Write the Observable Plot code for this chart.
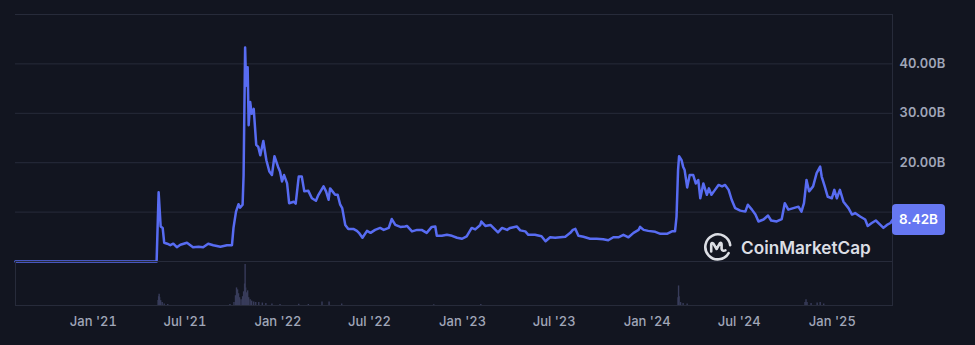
<!DOCTYPE html>
<html>
<head>
<meta charset="utf-8">
<script src="https://cdn.jsdelivr.net/npm/d3@7"></script>
<script src="https://cdn.jsdelivr.net/npm/@observablehq/plot@0.6"></script>
<style>
  html, body { margin: 0; padding: 0; background: #121520; }
  #wrap { position: relative; width: 975px; height: 345px; background: #121520; overflow: hidden; font-family: Inter, "Noto Sans", sans-serif; }
  #wrap svg { position: absolute; left: 0; background: transparent; }
  #last { position: absolute; left: 892px; width: 53px; height: 31px; border-radius: 4px; background: #6677f2; color: #fff; font: 600 13.5px Inter, sans-serif; display: flex; align-items: center; justify-content: center; }
  #logo { position: absolute; left: 703px; top: 232px; display: flex; align-items: center; color: #dcdee4; }
  #logo span { font: 600 17.2px Inter, sans-serif; margin-left: 8px; letter-spacing: 0; }
</style>
</head>
<body>
<div id="wrap"></div>
<script>
// ---- data ----
const priceDates = [
"2020-07-31","2021-05-06","2021-05-10","2021-05-14","2021-05-18","2021-05-21","2021-05-27","2021-06-02","2021-06-08","2021-06-15",
"2021-06-22","2021-07-05","2021-07-17","2021-07-28","2021-08-06","2021-08-16","2021-08-26","2021-09-09","2021-09-22","2021-10-02",
"2021-10-05","2021-10-10","2021-10-15","2021-10-18","2021-10-23","2021-10-25","2021-10-28","2021-10-30","2021-11-02","2021-11-04",
"2021-11-07","2021-11-10","2021-11-14","2021-11-19","2021-11-23","2021-11-27","2021-12-03","2021-12-09","2021-12-15","2021-12-20",
"2021-12-25","2022-01-01","2022-01-05","2022-01-09","2022-01-13","2022-01-19","2022-01-23","2022-02-01","2022-02-05","2022-02-11",
"2022-02-17","2022-02-22","2022-03-02","2022-03-09","2022-03-17","2022-03-22","2022-04-01","2022-04-06","2022-04-11","2022-04-14",
"2022-04-24","2022-04-29","2022-05-04","2022-05-08","2022-05-14","2022-05-20","2022-05-30","2022-06-06","2022-06-10","2022-06-17",
"2022-06-26","2022-07-03","2022-07-12","2022-07-22","2022-07-29","2022-08-08","2022-08-14","2022-08-21","2022-08-31","2022-09-09",
"2022-09-13","2022-09-23","2022-10-03","2022-10-12","2022-10-22","2022-11-01","2022-11-08","2022-11-11","2022-11-21","2022-12-01",
"2022-12-11","2022-12-21","2022-12-31","2023-01-09","2023-01-19","2023-01-26","2023-02-05","2023-02-07","2023-02-15","2023-02-25",
"2023-03-03","2023-03-12","2023-03-20","2023-03-30","2023-04-05","2023-04-18","2023-04-25","2023-05-05","2023-05-11","2023-05-24",
"2023-06-06","2023-06-14","2023-06-23","2023-07-03","2023-07-13","2023-07-23","2023-08-02","2023-08-07","2023-08-12","2023-08-18",
"2023-08-28","2023-09-10","2023-09-23","2023-10-06","2023-10-16","2023-10-26","2023-11-05","2023-11-15","2023-11-25","2023-12-05",
"2023-12-15","2023-12-18","2023-12-25","2024-01-03","2024-01-17","2024-01-27","2024-02-09","2024-02-19","2024-02-25","2024-02-28",
"2024-03-02","2024-03-04","2024-03-09","2024-03-12","2024-03-15","2024-03-20","2024-03-25","2024-04-01","2024-04-06","2024-04-11",
"2024-04-15","2024-04-21","2024-04-28","2024-05-02","2024-05-07","2024-05-14","2024-05-21","2024-05-28","2024-06-03","2024-06-10",
"2024-06-16","2024-06-23","2024-07-03","2024-07-13","2024-07-18","2024-07-26","2024-08-02","2024-08-08","2024-08-18","2024-08-27",
"2024-09-02","2024-09-13","2024-09-23","2024-09-29","2024-10-06","2024-10-16","2024-10-26","2024-11-01","2024-11-06","2024-11-11",
"2024-11-16","2024-11-24","2024-12-01","2024-12-08","2024-12-11","2024-12-17","2024-12-23","2024-12-31","2025-01-05","2025-01-10",
"2025-01-16","2025-01-23","2025-02-02","2025-02-09","2025-02-15","2025-02-25","2025-03-07","2025-03-12","2025-03-20","2025-03-28",
"2025-04-06","2025-04-12","2025-04-19","2025-04-26","2025-04-30"
];
const priceValues = [
0,0,14.0,7.1,6.8,3.8,3.6,3.3,3.6,2.9,
3.4,3.8,2.9,3.0,2.9,3.6,3.3,3.0,3.3,3.3,
6.8,10.1,11.6,10.9,11.5,17.5,43.3,35.6,39.3,27.6,
32.3,29.9,30.9,23.6,23.2,21.5,24.4,20.5,18.2,17.5,
21.3,19.2,18.2,16.2,17.5,15.8,11.8,12.1,11.7,17.2,
17.2,14.2,14.3,12.8,12.3,13.5,15.2,14.2,12.5,14.8,
13.5,13.5,11.5,10.8,7.4,6.6,6.6,6.2,5.8,4.8,
6.2,5.8,6.4,6.8,6.4,6.8,8.6,7.4,7.0,7.1,
7.2,6.1,6.4,6.4,5.8,7.0,7.1,5.2,5.2,5.4,
5.2,4.8,4.6,5.1,6.8,6.5,7.4,8.1,7.2,7.4,
6.8,5.9,6.8,6.4,6.8,7.1,6.3,6.1,5.4,5.4,
5.1,4.1,4.9,4.8,4.9,5.0,5.8,6.4,6.6,5.2,
5.0,4.6,4.6,4.5,4.3,4.9,4.9,5.4,4.9,5.8,
6.4,7.0,6.4,6.2,6.0,5.6,5.6,6.1,6.1,9.1,
18.5,21.3,20.5,19.2,18.5,15.0,17.5,17.5,15.8,16.5,
12.8,15.8,13.5,14.8,13.5,14.5,15.5,15.2,15.5,14.5,
12.5,10.8,10.3,10.1,11.5,10.5,9.5,8.1,8.5,9.3,
8.3,8.1,8.6,11.8,10.5,10.8,11.1,10.1,11.8,16.5,
14.2,15.2,17.9,19.2,17.2,15.2,13.1,12.8,14.5,12.8,
14.5,12.1,10.8,9.5,9.8,9.1,8.5,7.2,7.8,8.3,
7.4,6.8,7.4,7.8,8.42
];
const volumeDates = [
"2021-05-09","2021-05-10","2021-05-11","2021-05-12","2021-05-14","2021-05-17","2021-05-21","2021-05-28","2021-09-28","2021-10-06",
"2021-10-09","2021-10-11","2021-10-13","2021-10-15","2021-10-17","2021-10-20","2021-10-23","2021-10-25","2021-10-27","2021-10-28",
"2021-10-29","2021-10-31","2021-11-02","2021-11-04","2021-11-07","2021-11-10","2021-11-14","2021-11-18","2021-11-24","2021-12-01",
"2021-12-08","2021-12-20","2022-01-05","2022-02-11","2022-03-02","2022-03-29","2022-04-12","2022-05-07","2022-11-05","2023-02-06",
"2024-03-02","2024-03-03","2024-03-04","2024-03-07","2024-03-12","2024-03-20","2024-11-08","2024-11-10","2024-11-12","2024-11-20",
"2024-12-02","2024-12-08","2024-12-15"
];
const volumeValues = [
0.5,0.9,1.15,0.8,0.5,0.3,0.15,0.1,0.1,0.3,
1.0,1.8,1.6,1.2,0.8,0.6,0.9,1.4,2.2,4.2,
1.8,1.3,1.5,0.8,0.6,0.45,0.35,0.3,0.3,0.25,
0.2,0.15,0.1,0.12,0.1,0.35,0.35,0.15,0.08,0.1,
0.8,2.0,0.9,0.3,0.2,0.15,0.3,0.6,0.3,0.2,
0.25,0.3,0.15
];
const xDomain = ["2020-07-31", "2025-04-30"];
const xTicks = ["2021-01-01","2021-07-01","2022-01-01","2022-07-01","2023-01-01","2023-07-01","2024-01-01","2024-07-01","2025-01-01"];
// the 10.00B label sits under the last-value badge in the reference, so only these show
const yTicks = [20, 30, 40];
const yGrid = [0, 10, 20, 30, 40, 50];
const yDomain = [0, 50];
const volumeDomain = [0, 4.5];
const lastLabel = "8.42B";

// ---- build ----
const parse = d3.utcParse("%Y-%m-%d");
const price = priceDates.map((d, i) => ({date: parse(d), value: priceValues[i]}));
const volume = volumeDates.map((d, i) => ({date: parse(d), value: volumeValues[i]}));
const xdom = xDomain.map(parse);

const gridColor = "#272b3a";
const textColor = "#a0a6b8";

const wrap = document.getElementById("wrap");

const pricePlot = Plot.plot({
  width: 975, height: 261,
  marginLeft: 15, marginRight: 83, marginTop: 14, marginBottom: 0,
  style: {background: "transparent", color: textColor, fontSize: "13px", fontFamily: "Inter, sans-serif", fontWeight: 600, overflow: "visible"},
  x: {type: "utc", domain: xdom, axis: null},
  y: {domain: yDomain, axis: "right", ticks: yTicks, tickFormat: d => d.toFixed(2) + "B", tickSize: 0, tickPadding: 7, label: null},
  marks: [
    Plot.ruleY(yGrid, {stroke: gridColor, strokeWidth: 1}),
    Plot.ruleX([xdom[1]], {stroke: gridColor, strokeWidth: 1}),
    Plot.lineY(price, {x: "date", y: "value", stroke: "#586cf2", strokeWidth: 2.5, strokeLinejoin: "round"})
  ]
});
pricePlot.style.top = "0px";
wrap.appendChild(pricePlot);

const volPlot = Plot.plot({
  width: 975, height: 84,
  marginLeft: 15, marginRight: 83, marginTop: 0, marginBottom: 40,
  style: {background: "transparent", color: textColor, fontSize: "13px", fontFamily: "Inter, sans-serif", fontWeight: 500},
  x: {type: "utc", domain: xdom, ticks: xTicks.map(parse), tickFormat: d3.utcFormat("%b '%y"), tickSize: 0, tickPadding: 11, label: null},
  y: {domain: volumeDomain, axis: null},
  marks: [
    Plot.ruleX(volume, {x: "date", y1: 0, y2: "value", stroke: "#383c5a", strokeWidth: 1.4}),
    Plot.frame({stroke: gridColor, strokeWidth: 1})
  ]
});
volPlot.style.top = "261px";
wrap.appendChild(volPlot);

// last value label placed through the plot's y scale
const ys = pricePlot.scale("y");
const lastY = ys.apply(priceValues[priceValues.length - 1]);
const lab = document.createElement("div");
lab.id = "last";
lab.textContent = lastLabel;
lab.style.top = (lastY - 15.5) + "px";
wrap.appendChild(lab);

// watermark
const logo = document.createElement("div");
logo.id = "logo";
logo.innerHTML = `<svg width="30" height="30" viewBox="0 0 30 30" style="position:static">
  <path d="M25.6 21.2 A12.5 12.5 0 1 1 27.2 13.2" fill="none" stroke="#dcdee4" stroke-width="2.6" stroke-linecap="round"/>
  <path d="M8.2 19.5 V12.8 Q8.2 10.2 10.4 11.6 L13.6 17 L16.8 11.4 Q18.6 10 18.6 12.8 V16.8 Q19.4 19.6 22.4 18.4" fill="none" stroke="#dcdee4" stroke-width="2.6" stroke-linecap="round" stroke-linejoin="round"/>
</svg><span>CoinMarketCap</span>`;
wrap.appendChild(logo);
</script>
</body>
</html>
